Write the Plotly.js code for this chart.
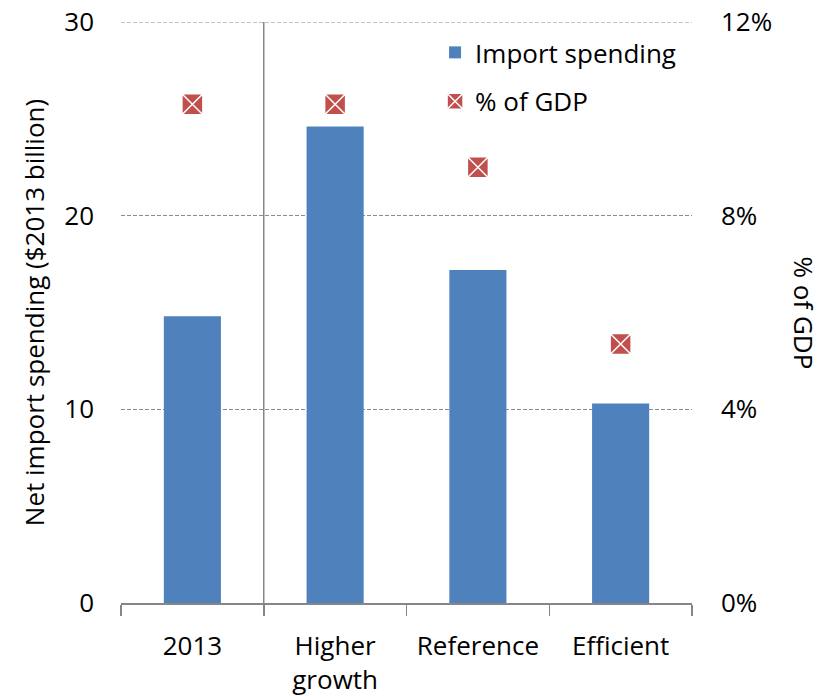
<!DOCTYPE html>
<html>
<head>
<meta charset="utf-8">
<script src="https://cdn.plot.ly/plotly-3.0.1.min.js"></script>
<style>
  html, body { margin: 0; padding: 0; background: #fff; }
  #chart { width: 825px; height: 696px; }
</style>
</head>
<body>
<div id="chart"></div>
<script>
// Scenario categories and values
const categories = ['2013', 'Higher<br>growth', 'Reference', 'Efficient'];
const importSpending = [14.8, 24.6, 17.2, 10.3];      // $2013 billion
const shareOfGDP = [0.103, 0.103, 0.090, 0.0535];     // fraction of GDP
const leftTicks = [0, 10, 20, 30];
const rightTicks = [0, 0.04, 0.08, 0.12];

const fontFamily = '"Open Sans", Lato, sans-serif';
const fontSize = 26;
const textColor = '#000000';
const gridColor = '#8c8c8c';
const gridDash = '4px,2px';

const bars = {
  type: 'bar',
  name: 'Import spending',
  legendgroup: 'spend',
  x: categories,
  y: importSpending,
  marker: { color: '#4f81bd' },
  hoverinfo: 'x+y'
};

const gdp = {
  type: 'scatter',
  mode: 'markers',
  name: '% of GDP',
  legendgroup: 'gdp',
  x: categories,
  y: shareOfGDP,
  yaxis: 'y2',
  marker: {
    symbol: 'square-x',
    size: 21,
    color: '#c0504d',
    line: { color: '#ffffff', width: 1.5 }
  }
};

const yMax = leftTicks[leftTicks.length - 1];

const layout = {
  width: 825,
  height: 696,
  margin: { l: 121, r: 133, t: 22, b: 93 },
  paper_bgcolor: '#ffffff',
  plot_bgcolor: '#ffffff',
  font: { family: fontFamily, size: fontSize, color: textColor },
  showlegend: true,
  bargap: 0.6,
  legend: {
    x: 0.55, y: 0.988, xanchor: 'left', yanchor: 'top',
    bgcolor: 'rgba(0,0,0,0)',
    font: { family: fontFamily, size: fontSize, color: textColor },
    itemsizing: 'trace',
    traceorder: 'grouped',
    tracegroupgap: 12
  },
  xaxis: {
    type: 'category',
    showline: true,
    linecolor: '#868686',
    linewidth: 1.5,
    ticks: 'outside',
    tickson: 'boundaries',
    ticklen: 11,
    tickcolor: '#868686',
    tickwidth: 1.5,
    showgrid: false,
    zeroline: false,
    ticklabelstandoff: 19,
    tickfont: { family: fontFamily, size: fontSize, color: textColor }
  },
  yaxis: {
    range: [0, yMax],
    tickvals: leftTicks,
    showline: false,
    zeroline: false,
    showgrid: true,
    gridcolor: gridColor,
    griddash: gridDash,
    gridwidth: 1,
    ticks: '',
    ticklabelstandoff: 26,
    tickfont: { family: fontFamily, size: fontSize, color: textColor },
    title: {
      text: 'Net import spending ($2013 billion)',
      font: { family: fontFamily, size: fontSize, color: textColor },
      standoff: 12
    }
  },
  yaxis2: {
    overlaying: 'y',
    side: 'right',
    range: [0, rightTicks[rightTicks.length - 1]],
    tickvals: rightTicks,
    tickformat: '.0%',
    showgrid: false,
    zeroline: false,
    showline: false,
    ticks: '',
    ticklabelstandoff: 28,
    tickfont: { family: fontFamily, size: fontSize, color: textColor }
  },
  shapes: [
    {
      // top gridline at the edge of the plotting area
      type: 'line', xref: 'paper', yref: 'y',
      x0: 0, x1: 1, y0: yMax, y1: yMax,
      line: { color: gridColor, width: 1, dash: gridDash }
    },
    {
      // divider between the historical year and the scenarios
      type: 'line', xref: 'x', yref: 'paper',
      x0: 0.5, x1: 0.5, y0: 0, y1: 1,
      line: { color: '#868686', width: 1.5 }
    }
  ],
  annotations: [
    {
      text: '% of GDP',
      xref: 'paper', yref: 'paper',
      x: 1, y: 0.5, xshift: 112,
      xanchor: 'center', yanchor: 'middle',
      textangle: 90,
      showarrow: false,
      font: { family: fontFamily, size: fontSize, color: textColor }
    }
  ]
};

Plotly.newPlot('chart', [bars, gdp], layout, { displayModeBar: false, staticPlot: true });
</script>
</body>
</html>
